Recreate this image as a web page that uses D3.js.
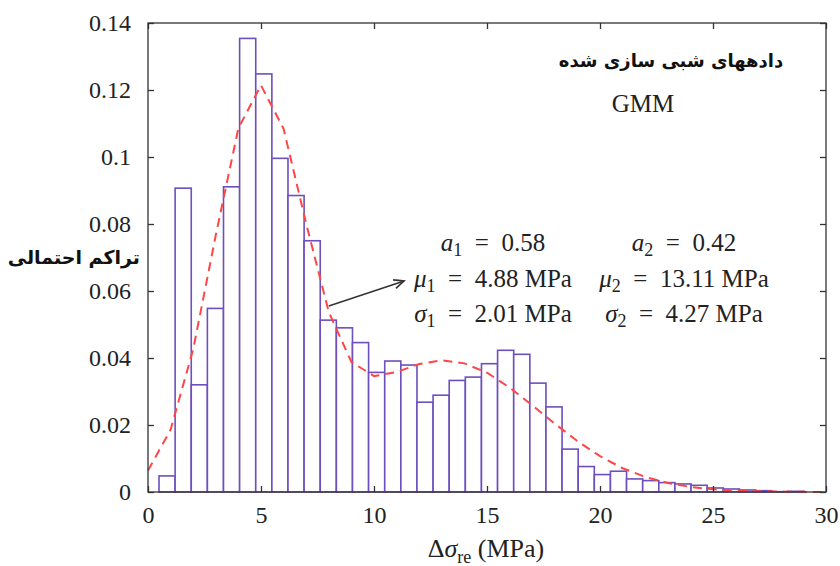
<!DOCTYPE html>
<html><head><meta charset="utf-8">
<script src="https://cdn.jsdelivr.net/npm/d3@7"></script>
<style>
body{margin:0;background:#fff;}
svg{display:block;}
</style></head>
<body><div id="chart"></div>
<script>
// Histogram (probability density), 40 bins of equal width
const binStart = 0.487;
const binWidth = 0.7134;
const binValues = [0.0048,0.0907,0.0320,0.0548,0.0911,0.1354,0.1248,0.0996,0.0885,0.0750,
  0.0513,0.0490,0.0446,0.0357,0.0391,0.0379,0.0268,0.0289,0.0333,0.0343,
  0.0383,0.0423,0.0411,0.0325,0.0254,0.0128,0.0076,0.0052,0.0062,0.0039,
  0.0034,0.0028,0.0024,0.0020,0.0012,0.0009,0.0006,0.0004,0.0001,0.0002];
// GMM fit curve, sampled at integer MPa
const curveX = [0,1,2,3,4,5,6,7,8,9,10,11,12,13,14,15,16,17,18,19,20,21,22,23,24,25,26,27,28,29,30];
const curveY = [0.0064,0.0186,0.0426,0.0767,0.1086,0.1214,0.1084,0.0801,0.0537,0.0388,0.0346,
  0.0358,0.0382,0.0393,0.0384,0.0356,0.0312,0.0259,0.0204,0.0152,0.0107,0.0071,0.0045,
  0.0027,0.0015,0.0008,0.0004,0.0002,0.0001,0.00004,0.00002];
const xTicks = [0,5,10,15,20,25,30];
const yTicks = [0,0.02,0.04,0.06,0.08,0.1,0.12,0.14];
const yTickLabels = ["0","0.02","0.04","0.06","0.08","0.1","0.12","0.14"];
const paramsLeft = [["a","1","0.58",""],["μ","1","4.88"," MPa"],["σ","1","2.01"," MPa"]];
const paramsRight = [["a","2","0.42",""],["μ","2","13.11"," MPa"],["σ","2","4.27"," MPa"]];
const arrowFrom = [8.0, 0.0555];
const arrowTo = [11.33, 0.063];

const W = 840, H = 566;
const svg = d3.select("#chart").append("svg").attr("width", W).attr("height", H);
const L = 148, R = 826, T = 23, B = 492;
const x = d3.scaleLinear().domain([0,30]).range([L,R]);
const y = d3.scaleLinear().domain([0,0.14]).range([B,T]);
const serif = '"Liberation Serif","Times New Roman",serif';

// bars
svg.append("g").selectAll("rect").data(binValues).join("rect")
  .attr("x", (d,i)=>x(binStart+i*binWidth))
  .attr("width", (d,i)=>x(binStart+(i+1)*binWidth)-x(binStart+i*binWidth))
  .attr("y", d=>y(d)).attr("height", d=>y(0)-y(d))
  .attr("fill","#fff").attr("stroke","#6d4fbd").attr("stroke-width",1.6);

// curve
svg.append("path").datum(curveX.map((v,i)=>[v,curveY[i]]))
  .attr("d", d3.line().x(d=>x(d[0])).y(d=>y(d[1])))
  .attr("fill","none").attr("stroke","#ff4646").attr("stroke-width",2)
  .attr("stroke-dasharray","9,6");

// axes
const tickLen = -6;
const gx = svg.append("g").attr("transform",`translate(0,${B})`)
  .call(d3.axisBottom(x).tickValues(xTicks).tickSize(tickLen).tickPadding(14).tickFormat(d3.format("d")));
const gxt = svg.append("g").attr("transform",`translate(0,${T})`)
  .call(d3.axisTop(x).tickValues(xTicks).tickSize(tickLen).tickFormat(""));
const gy = svg.append("g").attr("transform",`translate(${L},0)`)
  .call(d3.axisLeft(y).tickValues(yTicks).tickSize(tickLen).tickPadding(17).tickFormat((d,i)=>yTickLabels[i]));
const gyr = svg.append("g").attr("transform",`translate(${R},0)`)
  .call(d3.axisRight(y).tickValues(yTicks).tickSize(tickLen).tickFormat(""));
[gx,gxt,gy,gyr].forEach(g=>{
  g.select(".domain").remove();
  g.selectAll(".tick line").attr("stroke","#333").attr("stroke-width",1.3);
  g.selectAll(".tick text").attr("font-size",24).attr("fill","#222").attr("font-family",serif);
});
svg.append("rect").attr("x",L).attr("y",T).attr("width",R-L).attr("height",B-T)
  .attr("fill","none").attr("stroke","#333").attr("stroke-width",1.3);

// x-axis title
const xt = svg.append("text").attr("x",486).attr("y",557).attr("text-anchor","middle")
  .attr("font-family",serif).attr("font-size",26).attr("fill","#222");
xt.append("tspan").text("Δ");
xt.append("tspan").attr("font-style","italic").text("σ");
xt.append("tspan").attr("font-size",18).attr("dy",6).text("re");
xt.append("tspan").attr("dy",-6).text(" (MPa)");

// y-axis title (Persian)
svg.append("text").attr("x",140).attr("y",264).attr("text-anchor","end")
  .attr("font-family",'"DejaVu Sans",sans-serif').attr("font-weight","bold").attr("font-size",19)
  .attr("fill","#111").text("تراکم احتمالی");

// legend texts
svg.append("text").attr("x",671).attr("y",67).attr("text-anchor","middle")
  .attr("font-family",'"DejaVu Sans",sans-serif').attr("font-weight","bold").attr("font-size",18)
  .attr("fill","#111").text("دادههای شبی سازی شده");
svg.append("text").attr("x",643).attr("y",112).attr("text-anchor","middle")
  .attr("font-family",serif).attr("font-size",25).attr("fill","#222").text("GMM");

function params(list, cx){
  list.forEach((p,i)=>{
    const t = svg.append("text").attr("x",cx).attr("y",251+i*35.5).attr("text-anchor","middle")
      .attr("font-family",serif).attr("font-size",25).attr("fill","#222");
    t.append("tspan").attr("font-style","italic").text(p[0]);
    t.append("tspan").attr("font-size",18).attr("dy",5).text(p[1]);
    t.append("tspan").attr("dy",-5).text("\u2002=\u2002"+p[2]+p[3]);
  });
}
params(paramsLeft, 493);
params(paramsRight, 684);

// arrow
const ax0=x(arrowFrom[0]), ay0=y(arrowFrom[1]), ax1=x(arrowTo[0]), ay1=y(arrowTo[1]);
svg.append("line").attr("x1",ax0).attr("y1",ay0).attr("x2",ax1).attr("y2",ay1)
  .attr("stroke","#333").attr("stroke-width",1.6);
const ang = Math.atan2(ay1-ay0, ax1-ax0), hl=11, ha=0.42;
svg.append("path").attr("d",`M${ax1-hl*Math.cos(ang-ha)},${ay1-hl*Math.sin(ang-ha)}L${ax1},${ay1}L${ax1-hl*Math.cos(ang+ha)},${ay1-hl*Math.sin(ang+ha)}`)
  .attr("fill","none").attr("stroke","#333").attr("stroke-width",1.6);
</script></body></html>
